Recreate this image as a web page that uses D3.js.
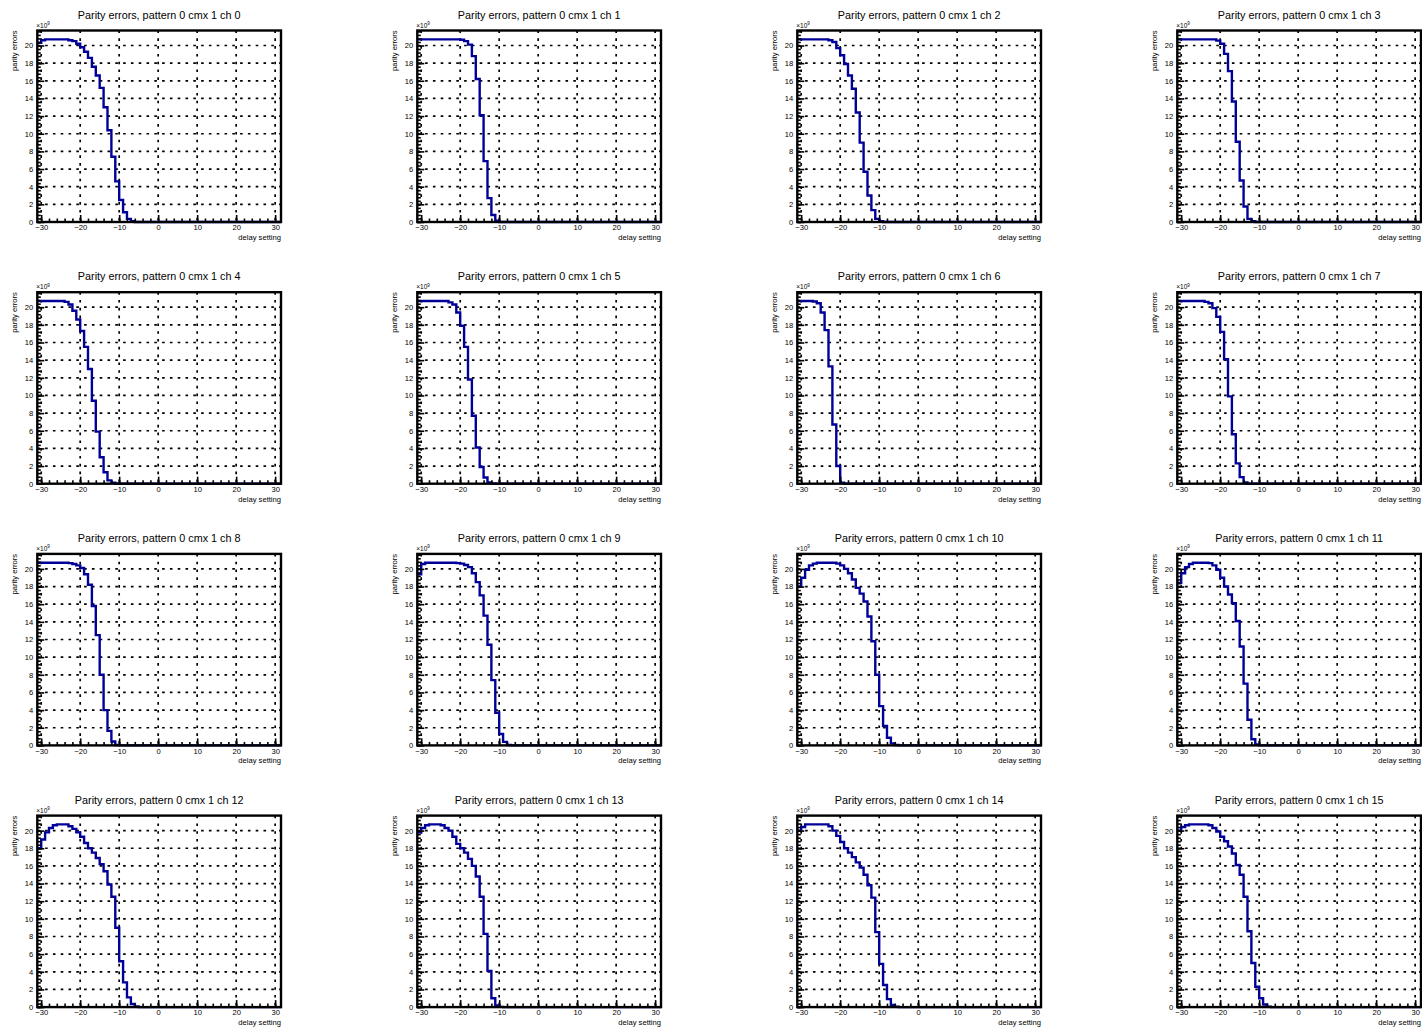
<!DOCTYPE html>
<html><head><meta charset="utf-8">
<script src="https://cdn.jsdelivr.net/npm/d3@7"></script>
<style>
html,body{margin:0;padding:0;background:#fff;}
svg{display:block;font-family:"Liberation Sans",Arial,Helvetica,sans-serif;}
</style></head>
<body>
<svg id="c" width="1422" height="1027"></svg>
<script>
// ---- data (parity errors, units of 1e9), bins start at delay -31, width 1; later bins are 0
const firstBin = -31;
const xDomain = [-31, 31.5];
const yDomain = [0, 21.7];
const xTicks = [-30, -20, -10, 0, 10, 20, 30];
const yTicks = [0, 2, 4, 6, 8, 10, 12, 14, 16, 18, 20];
const channels = ["0","1","2","3","4","5","6","7","8","9","10","11","12","13","14","15"];
const ch0 = [20.3,20.6,20.7,20.7,20.7,20.7,20.7,20.7,20.6,20.5,20.2,19.8,19.3,18.6,17.6,16.6,15.2,13.0,10.4,7.4,4.6,2.5,1.1,0.35,0.08,0];
const ch1 = [20.7,20.7,20.7,20.7,20.7,20.7,20.7,20.7,20.7,20.7,20.7,20.65,20.5,20.1,18.8,16.2,12.1,6.9,2.7,0.8,0.15,0];
const ch2 = [20.7,20.7,20.7,20.7,20.7,20.7,20.7,20.7,20.6,20.4,19.7,18.9,17.9,16.6,15.1,12.4,9.0,5.7,3.0,1.35,0.35,0.08,0];
const ch3 = [20.7,20.7,20.7,20.7,20.7,20.7,20.7,20.7,20.7,20.7,20.55,20.2,19.05,17.1,13.65,9.1,4.7,1.75,0.35,0.08,0];
const ch4 = [20.7,20.7,20.7,20.7,20.7,20.7,20.7,20.6,20.3,19.6,18.6,17.3,15.5,13.0,9.4,5.9,3.0,1.3,0.38,0.1,0.03,0];
const ch5 = [20.7,20.7,20.7,20.7,20.7,20.7,20.7,20.7,20.55,20.3,19.4,17.9,15.5,11.8,7.7,4.1,1.9,0.7,0.15,0.03,0];
const ch6 = [20.7,20.7,20.7,20.7,20.65,20.45,19.4,17.4,13.3,6.7,2.0,0.1,0];
const ch7 = [20.7,20.7,20.7,20.7,20.7,20.7,20.7,20.6,20.45,19.9,18.9,17.2,14.1,9.9,5.6,2.3,0.75,0.15,0];
const ch8 = [20.7,20.7,20.7,20.7,20.7,20.7,20.7,20.7,20.65,20.55,20.4,20.1,19.4,18.2,15.8,12.5,8.0,4.0,1.65,0.45,0.05,0];
const ch9 = [19.4,20.55,20.7,20.7,20.7,20.7,20.7,20.7,20.7,20.7,20.65,20.6,20.45,20.2,19.5,18.5,17.0,14.7,11.4,7.4,3.7,1.3,0.4,0.05,0];
const ch10 = [18.0,19.0,19.9,20.4,20.6,20.7,20.7,20.7,20.7,20.7,20.6,20.4,20.0,19.5,18.8,17.85,17.2,16.3,14.6,11.8,8.0,4.45,2.2,0.87,0.23,0.05,0];
const ch11 = [18.4,19.5,20.2,20.55,20.7,20.7,20.7,20.7,20.65,20.4,19.9,19.0,18.0,17.1,16.1,14.1,11.2,7.0,2.9,0.7,0.1,0];
const ch12 = [18.0,19.0,19.8,20.3,20.6,20.7,20.7,20.7,20.5,20.2,19.8,19.3,18.6,18.0,17.5,16.9,16.2,15.4,13.9,12.5,9.0,5.2,2.8,1.1,0.35,0.08,0];
const ch13 = [19.8,20.3,20.6,20.7,20.7,20.7,20.6,20.3,20.0,19.3,18.5,18.0,17.5,16.8,16.0,14.8,12.5,8.3,4.1,1.0,0.2,0.03,0];
const ch14 = [20.0,20.4,20.7,20.7,20.7,20.7,20.7,20.7,20.5,20.0,19.4,18.7,18.0,17.5,17.0,16.4,15.8,15.0,13.8,12.4,8.5,4.9,2.5,0.9,0.25,0.05,0];
const ch15 = [20.0,20.4,20.6,20.7,20.7,20.7,20.7,20.7,20.6,20.3,19.9,19.3,18.8,18.2,17.4,16.1,15.0,12.5,8.6,5.0,2.3,1.0,0.3,0.05,0];
const series = [ch0,ch1,ch2,ch3,ch4,ch5,ch6,ch7,ch8,ch9,ch10,ch11,ch12,ch13,ch14,ch15];

// ---- layout
const colPitch = 380, rowPitch = 261.7;
const frameX0 = 37.3, frameY0 = 30.5, frameW = 243.7, frameH = 191.5;
const lineColor = "#000099";

const svg = d3.select("#c");

series.forEach((vals, i) => {
  const c = i % 4, r = Math.floor(i / 4);
  const left = frameX0 + colPitch * c, top = frameY0 + rowPitch * r;
  const g = svg.append("g").attr("transform", `translate(${left},${top})`);
  const x = d3.scaleLinear().domain(xDomain).range([0, frameW]);
  const y = d3.scaleLinear().domain(yDomain).range([frameH, 0]);

  // grid (dotted)
  const grid = g.append("g").attr("stroke", "#000").attr("stroke-width", 1.7)
    .attr("stroke-dasharray", "2.6,5.2").attr("fill", "none");
  xTicks.forEach(t => grid.append("line").attr("x1", x(t)).attr("x2", x(t)).attr("y1", 0).attr("y2", frameH));
  yTicks.filter(t => t > 0).forEach(t => grid.append("line").attr("x1", 0).attr("x2", frameW).attr("y1", y(t)).attr("y2", y(t)));

  // histogram outline
  const pts = [];
  const nb = Math.ceil(xDomain[1] - firstBin);
  for (let b = 0; b < nb; b++) {
    const v = b < vals.length ? vals[b] : 0;
    pts.push([firstBin + b, v]);
  }
  pts.push([Math.min(firstBin + nb, xDomain[1]), 0]);
  const line = d3.line().x(d => x(Math.min(d[0], xDomain[1]))).y(d => y(d[1])).curve(d3.curveStepAfter);
  g.append("path").attr("d", line(pts)).attr("fill", "none")
    .attr("stroke", lineColor).attr("stroke-width", 2.4).attr("stroke-linejoin", "miter");

  // axes (ticks inward, ROOT style)
  const xAxisMinor = d3.axisBottom(x).tickValues(d3.range(-30, 31, 2)).tickSize(-3.5).tickFormat("");
  const xAxis = d3.axisBottom(x).tickValues(xTicks).tickSize(-7).tickPadding(3);
  const yAxisMinor = d3.axisLeft(y).tickValues(d3.range(0, 21.61, 0.4)).tickSize(-3.5).tickFormat("");
  const yAxis = d3.axisLeft(y).tickValues(yTicks).tickSize(-7).tickPadding(4);
  [xAxisMinor, xAxis].forEach(a => {
    const ag = g.append("g").attr("transform", `translate(0,${frameH})`).call(a);
    ag.select(".domain").remove();
    ag.selectAll("line").attr("stroke", "#000").attr("stroke-width", 1.6);
    ag.selectAll("text").attr("font-size", 7.6).attr("fill", "#000")
      .attr("font-family", "Liberation Sans, Arial, sans-serif");
  });
  [yAxisMinor, yAxis].forEach(a => {
    const ag = g.append("g").call(a);
    ag.select(".domain").remove();
    ag.selectAll("line").attr("stroke", "#000").attr("stroke-width", 1.6);
    ag.selectAll("text").attr("font-size", 7.6).attr("fill", "#000")
      .attr("font-family", "Liberation Sans, Arial, sans-serif");
  });

  // frame
  g.append("rect").attr("x", 0).attr("y", 0).attr("width", frameW).attr("height", frameH)
    .attr("fill", "none").attr("stroke", "#000").attr("stroke-width", 2.4);

  // title
  g.append("text").attr("x", frameW / 2).attr("y", -12).attr("text-anchor", "middle")
    .attr("font-size", 10.8).attr("fill", "#000")
    .text(`Parity errors, pattern 0 cmx 1 ch ${channels[i]}`);
  // exponent label
  const ex = g.append("text").attr("x", -1).attr("y", -3).attr("font-size", 6.5).attr("fill", "#000");
  ex.append("tspan").text("×10");
  ex.append("tspan").attr("font-size", 4.5).attr("dy", -2.5).text("9");
  // y title
  g.append("text").attr("transform", `translate(-20,0) rotate(-90)`).attr("text-anchor", "end")
    .attr("font-size", 7.6).attr("fill", "#000").text("parity errors");
  // x title
  g.append("text").attr("x", frameW).attr("y", frameH + 18).attr("text-anchor", "end")
    .attr("font-size", 7.6).attr("fill", "#000").text("delay setting");
});
</script>
</body></html>
